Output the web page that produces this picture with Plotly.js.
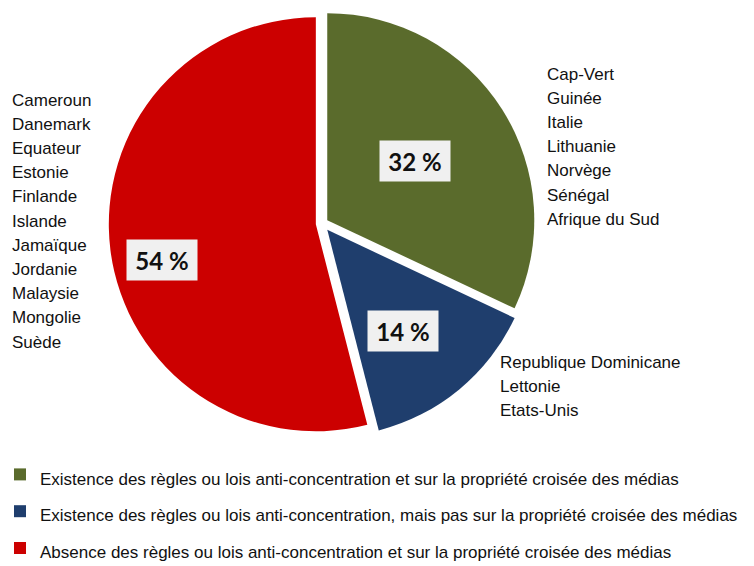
<!DOCTYPE html>
<html>
<head>
<meta charset="utf-8">
<script src="https://cdn.plot.ly/plotly-3.0.1.min.js"></script>
<style>html,body{margin:0;padding:0;background:#fff;}#chart{width:754px;height:566px;}</style>
</head>
<body>
<div id="chart"></div>
<script>
// ---- data ----
const categories = [
  "Existence des règles ou lois anti-concentration et sur la propriété croisée des médias",
  "Existence des règles ou lois anti-concentration, mais pas sur la propriété croisée des médias",
  "Absence des règles ou lois anti-concentration et sur la propriété croisée des médias"
];
const values = [32, 14, 54];
const countriesGreen = ["Cap-Vert", "Guinée", "Italie", "Lithuanie", "Norvège", "Sénégal", "Afrique du Sud"];
const countriesBlue = ["Republique Dominicane", "Lettonie", "Etats-Unis"];
const countriesRed = ["Cameroun", "Danemark", "Equateur", "Estonie", "Finlande", "Islande", "Jamaïque", "Jordanie", "Malaysie", "Mongolie", "Suède"];

// ---- style ----
const W = 754, H = 566;
const colors = ["#5a6b2c", "#1f3e6d", "#cc0000"];
const px = x => x / W;
const py = y => 1 - y / H;
const FAMILY = "Liberation Sans, Arial, sans-serif";
const textFont = {family: FAMILY, size: 17, color: "#111"};

const annotations = [];
function addList(list, x0, y0, step) {
  list.forEach((name, i) => {
    annotations.push({
      xref: "paper", yref: "paper", x: px(x0), y: py(y0 + i * step),
      xanchor: "left", yanchor: "middle", showarrow: false,
      text: name, font: textFont, align: "left"
    });
  });
}
addList(countriesRed, 10, 100, 24.2);
addList(countriesGreen, 545, 74, 24.2);
addList(countriesBlue, 498, 362, 24.2);

const pctPos = [[415, 161], [403, 331], [162, 260]];
values.forEach((v, i) => {
  annotations.push({
    xref: "paper", yref: "paper", x: px(pctPos[i][0]), y: py(pctPos[i][1]),
    xanchor: "center", yanchor: "middle", showarrow: false,
    text: "<b>" + v + " %</b>",
    font: {family: "Lato, Carlito, Calibri, sans-serif", size: 24, color: "#111"},
    bgcolor: "#f0f0f0", borderpad: 3, width: 64, height: 34
  });
});

const legendLabels = categories.map(c => '<span style="font-size:17px">' + c + '</span>');

const trace = {
  type: "pie",
  labels: legendLabels,
  values: values,
  sort: false,
  direction: "clockwise",
  rotation: 0,
  pull: [0.03, 0.04, 0.03],
  textinfo: "none",
  hoverinfo: "label+value",
  marker: {colors: colors, line: {color: "#ffffff", width: 0}},
  domain: {x: [0.1415, 0.7126], y: [0.2230, 0.9873]}
};

const layout = {
  width: W, height: H,
  margin: {l: 0, r: 0, t: 0, b: 0, autoexpand: false},
  paper_bgcolor: "#ffffff",
  showlegend: true,
  legend: {
    x: 0, y: py(451), xanchor: "left", yanchor: "top",
    orientation: "v",
    font: {family: FAMILY, size: 26, color: "#111"},
    bgcolor: "rgba(0,0,0,0)"
  },
  annotations: annotations
};

Plotly.newPlot("chart", [trace], layout, {displayModeBar: false, staticPlot: true});
</script>
</body>
</html>
